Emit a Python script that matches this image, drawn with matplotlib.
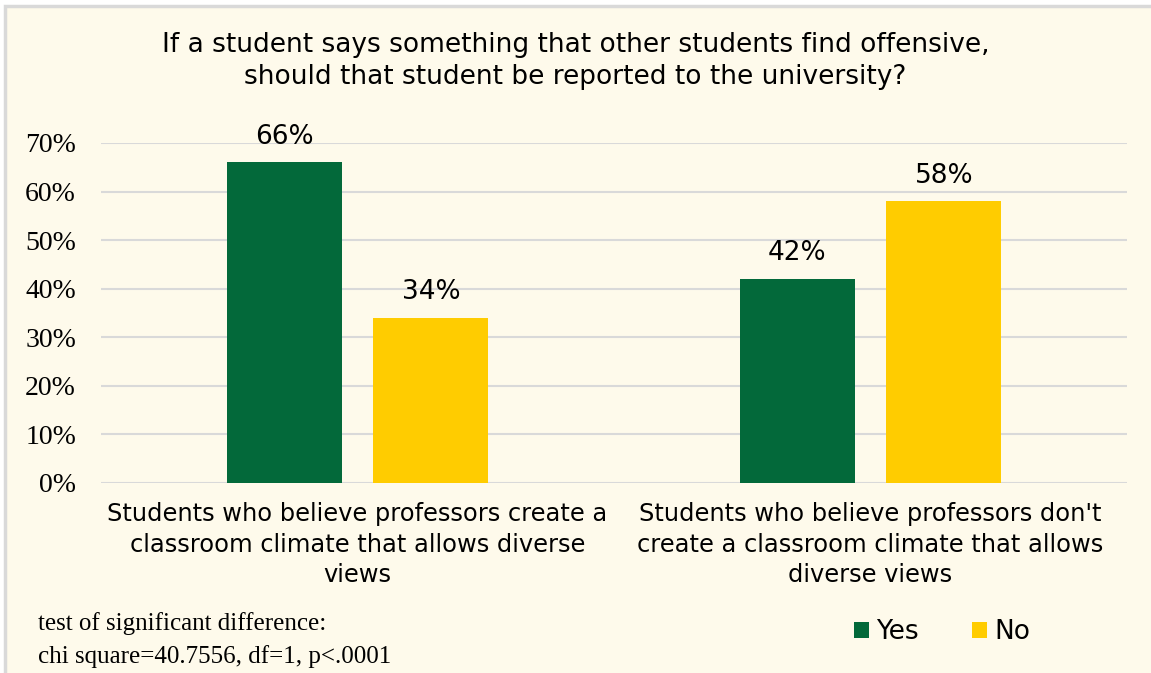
import matplotlib
matplotlib.use("Agg")
import matplotlib.pyplot as plt
from matplotlib.patches import Rectangle
import numpy as np

title = ("If a student says something that other students find offensive,\n"
         "should that student be reported to the university?")
categories = ["Students who believe professors create a\nclassroom climate that allows diverse\nviews",
              "Students who believe professors don't\ncreate a classroom climate that allows\ndiverse views"]
seriesNames = ["Yes", "No"]
yesValues = [66, 42]
noValues = [34, 58]
yTicks = [0, 10, 20, 30, 40, 50, 60, 70]
footnote = "test of significant difference:\nchi square=40.7556, df=1, p<.0001"

GREEN = "#03693A"
YELLOW = "#FFCC00"
CREAM = "#FEFAEB"
GRID = "#D9D9D9"
SANS = "DejaVu Sans"
SERIF = "Liberation Serif"

W, H = 1151, 673
fig = plt.figure(figsize=(W / 100, H / 100), dpi=100, facecolor="white")

# cream panel with a grey frame along top and left
panel = Rectangle((5 / W, -0.05), 1.2, 1.05 - 6 / H, transform=fig.transFigure,
                  facecolor=CREAM, edgecolor=GRID, linewidth=2.5, zorder=-10)
fig.patches.append(panel)

ax = fig.add_axes([101 / W, 1 - 483 / H, (1127 - 101) / W, (483 - 143) / H])
ax.set_facecolor("none")

x = np.arange(len(categories))
barWidth = 0.224
offset = 0.143
barsYes = ax.bar(x - offset, yesValues, barWidth, color=GREEN, label=seriesNames[0], zorder=3)
barsNo = ax.bar(x + offset, noValues, barWidth, color=YELLOW, label=seriesNames[1], zorder=3)

for bars, vals in ((barsYes, yesValues), (barsNo, noValues)):
    for b, v in zip(bars, vals):
        ax.annotate(f"{v}%", (b.get_x() + b.get_width() / 2, v), xytext=(0, 9),
                    textcoords="offset points", ha="center", va="bottom",
                    fontsize=19, family=SANS, color="black")

ax.set_xlim(-0.5, 1.5)
ax.set_ylim(0, 70)
ax.set_yticks(yTicks)
ax.set_yticklabels([f"{t}%" for t in yTicks], family=SERIF, fontsize=20)
ax.yaxis.grid(True, color=GRID, linewidth=1.5, zorder=0)
ax.set_axisbelow(True)
ax.tick_params(axis="y", length=0, pad=18)
ax.tick_params(axis="x", length=0, pad=14)
ax.set_xticks(x)
ax.set_xticklabels(categories, family=SANS, fontsize=17.4, linespacing=1.32)
for s in ax.spines.values():
    s.set_visible(False)

fig.text(0.5, 1 - 61 / H, title, ha="center", va="center", fontsize=19,
         family=SANS, linespacing=1.25)

fig.text(38 / W, 1 - 640 / H, footnote, ha="left", va="center", fontsize=18,
         family=SERIF, linespacing=1.6)

leg = fig.legend(handles=[barsYes, barsNo], labels=seriesNames, loc="center left",
                 bbox_to_anchor=(841 / W, 1 - 632 / H), ncol=2, frameon=False,
                 prop={"family": SANS, "size": 19}, handlelength=0.57, handleheight=0.57,
                 handletextpad=0.27, columnspacing=2.0, borderpad=0.0)

fig.savefig("out.png", dpi=100, facecolor="white")
